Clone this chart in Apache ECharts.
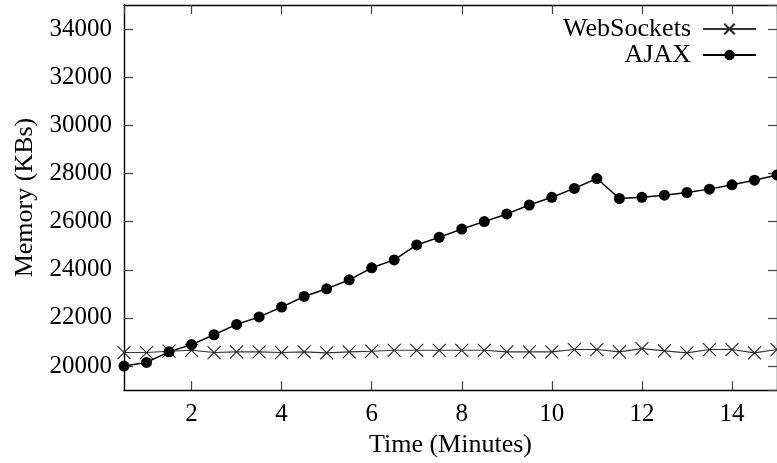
<!DOCTYPE html>
<html>
<head>
<meta charset="utf-8">
<script src="https://cdn.jsdelivr.net/npm/echarts@6/dist/echarts.min.js"></script>
<style>
html,body{margin:0;padding:0;background:#fff;}
#chart{width:777px;height:463px;}
</style>
</head>
<body>
<div id="chart"></div>
<script>
const minutes = [0.5,1,1.5,2,2.5,3,3.5,4,4.5,5,5.5,6,6.5,7,7.5,8,8.5,9,9.5,10,10.5,11,11.5,12,12.5,13,13.5,14,14.5,15];
const webSockets = [20560,20560,20615,20655,20560,20590,20590,20560,20590,20545,20590,20615,20655,20655,20655,20655,20655,20590,20590,20590,20685,20685,20590,20725,20630,20545,20685,20685,20545,20685];
const ajax = [20000,20150,20590,20890,21300,21730,22040,22450,22890,23210,23580,24080,24410,25030,25350,25690,26000,26320,26690,27010,27380,27790,26960,27010,27100,27210,27350,27530,27720,27940];
const seriesNames = ['WebSockets','AJAX'];
const xName = 'Time (Minutes)';
const yName = 'Memory (KBs)';

const FONT = '"Liberation Serif", "DejaVu Serif", serif';
const chart = echarts.init(document.getElementById('chart'), null, {renderer:'canvas'});

const tickStyle = {show:true, inside:true, length:9, lineStyle:{color:'#444', width:1.2}};
const lineAx = {show:true, onZero:false, lineStyle:{color:'#000', width:1.4}};
const plain = v => String(v);

chart.setOption({
  animation:false,
  backgroundColor:'#fff',
  textStyle:{fontFamily:FONT, color:'#000'},
  grid:{left:124, top:5, width:654, height:388, containLabel:false},
  legend:{
    data:seriesNames,
    orient:'vertical',
    right:20, top:16,
    align:'right',
    padding:0,
    itemGap:0,
    itemWidth:53, itemHeight:13,
    textStyle:{fontFamily:FONT, fontSize:26, color:'#000', lineHeight:21, padding:[0,7,0,0]}
  },
  xAxis:[{
    type:'value', min:0.5, max:15, splitNumber:7,
    name:xName, nameLocation:'middle', nameGap:37,
    nameTextStyle:{fontFamily:FONT, fontSize:26, color:'#000'},
    axisLine:lineAx, axisTick:tickStyle, splitLine:{show:false},
    axisLabel:{fontFamily:FONT, fontSize:25, color:'#000', margin:12, showMinLabel:false, showMaxLabel:false, formatter:plain}
  },{
    type:'value', min:0.5, max:15, splitNumber:7, position:'top',
    axisLine:lineAx, axisTick:tickStyle, splitLine:{show:false}, axisLabel:{show:false}
  }],
  yAxis:[{
    type:'value', min:19000, max:35000, splitNumber:8,
    name:yName, nameLocation:'middle', nameGap:86, nameRotate:90,
    nameTextStyle:{fontFamily:FONT, fontSize:26, color:'#000'},
    axisLine:lineAx, axisTick:tickStyle, splitLine:{show:false},
    axisLabel:{fontFamily:FONT, fontSize:25, color:'#000', margin:12, showMinLabel:false, showMaxLabel:false, formatter:plain}
  },{
    type:'value', min:19000, max:35000, splitNumber:8, position:'right',
    axisLine:lineAx, axisTick:tickStyle, splitLine:{show:false}, axisLabel:{show:false}
  }],
  series:[{
    name:seriesNames[0], type:'line',
    data:minutes.map((m,i)=>[m, webSockets[i]]),
    symbol:'path://M0,0L10,10M10,0L0,10', symbolSize:13,
    showAllSymbol:true,
    itemStyle:{color:'rgba(0,0,0,0)', borderColor:'#222', borderWidth:1.1},
    lineStyle:{color:'#333', width:1.1},
    z:2
  },{
    name:seriesNames[1], type:'line',
    data:minutes.map((m,i)=>[m, ajax[i]]),
    symbol:'circle', symbolSize:11,
    showAllSymbol:true,
    itemStyle:{color:'#000'},
    lineStyle:{color:'#000', width:1.5},
    z:3
  }]
});
</script>
</body>
</html>
